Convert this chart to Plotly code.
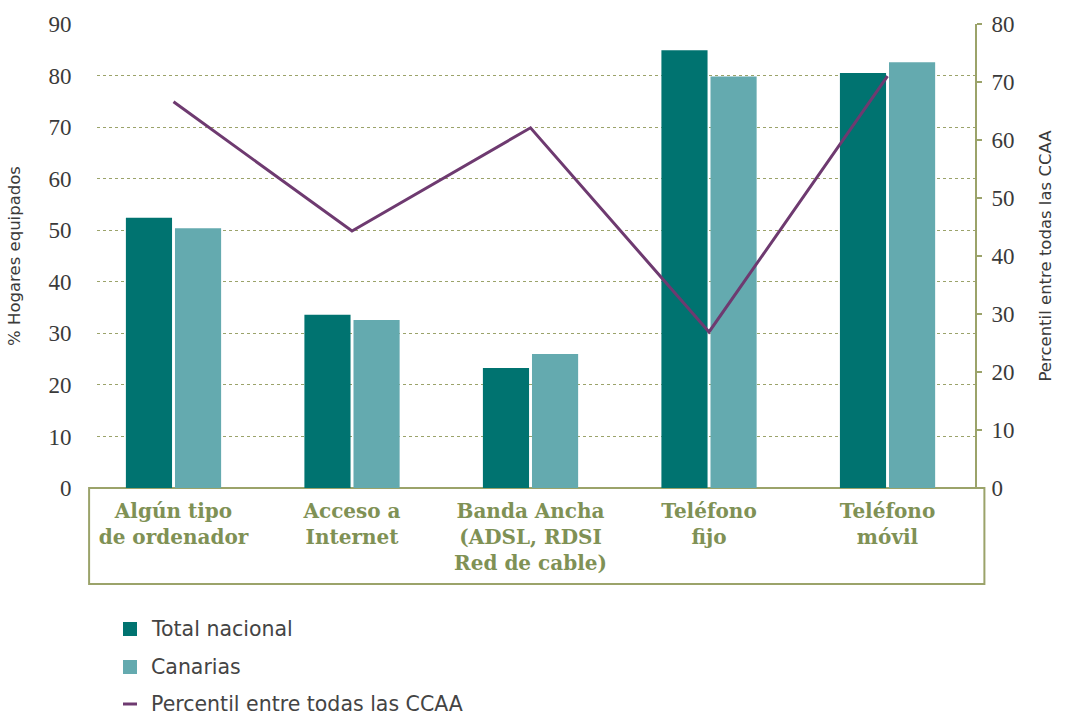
import plotly.graph_objects as go

# Equipamiento TIC de los hogares
categorias = [
    "Algún tipo<br>de ordenador",
    "Acceso a<br>Internet",
    "Banda Ancha<br>(ADSL, RDSI<br>Red de cable)",
    "Teléfono<br>fijo",
    "Teléfono<br>móvil",
]
total_nacional = [52.4, 33.6, 23.3, 84.9, 80.5]
canarias = [50.4, 32.6, 26.0, 79.8, 82.6]
percentil = [66.6, 44.3, 62.1, 26.9, 71.0]

ticks_izq = [0, 10, 20, 30, 40, 50, 60, 70, 80, 90]
ticks_der = [0, 10, 20, 30, 40, 50, 60, 70, 80]

C_TOTAL = "#007370"
C_CANARIAS = "#64aaaf"
C_PERC = "#6e3a70"
C_OLIVA = "#9ba36a"
C_CAT = "#7f9155"
C_TEXTO = "#3a3a3a"

x = list(range(len(categorias)))

fig = go.Figure()
fig.add_trace(go.Bar(
    x=x, y=total_nacional, name="Total nacional",
    marker=dict(color=C_TOTAL, line=dict(width=0)),
))
fig.add_trace(go.Bar(
    x=x, y=canarias, name="Canarias",
    marker=dict(color=C_CANARIAS, line=dict(width=0)),
))
fig.add_trace(go.Scatter(
    x=x, y=percentil, name="Percentil entre todas las CCAA",
    mode="lines", line=dict(color=C_PERC, width=3),
    yaxis="y2",
))

fig.update_layout(
    width=1071, height=716,
    margin=dict(l=97, r=96, t=24, b=228),
    paper_bgcolor="white", plot_bgcolor="white",
    barmode="group", bargap=0.45, bargroupgap=0.06,
    showlegend=False,
    font=dict(family="Liberation Serif", color=C_TEXTO),
    xaxis=dict(
        range=[-0.4286, 4.49],
        tickmode="array", tickvals=x,
        ticktext=[f"<b>{c}</b>" for c in categorias],
        tickfont=dict(family="DejaVu Serif", size=20, color=C_CAT),
        ticks="outside", ticklen=5, tickcolor="rgba(0,0,0,0)",
        showgrid=False, showline=False, zeroline=False,
    ),
    yaxis=dict(
        range=[0, 90], tickvals=ticks_izq,
        tickfont=dict(family="Liberation Serif", size=23, color=C_TEXTO),
        showgrid=True, gridcolor=C_OLIVA, griddash="dot", gridwidth=1.3,
        zeroline=False, showline=False,
        ticks="outside", ticklen=20, tickcolor="rgba(0,0,0,0)",
        title=dict(text="% Hogares equipados",
                   font=dict(family="DejaVu Sans", size=16.5, color=C_TEXTO),
                   standoff=23),
    ),
    yaxis2=dict(
        range=[0, 80], tickvals=ticks_der, overlaying="y", side="right",
        tickfont=dict(family="Liberation Serif", size=23, color=C_TEXTO),
        showgrid=False, zeroline=False,
        showline=True, linecolor=C_OLIVA, linewidth=2,
        ticks="outside", ticklen=5, tickcolor=C_OLIVA, tickwidth=2,
        ticklabelstandoff=5,
        title=dict(text="Percentil entre todas las CCAA",
                   font=dict(family="DejaVu Sans", size=16.5, color=C_TEXTO),
                   standoff=26),
    ),
)

# Recuadro de las etiquetas de categoría
fig.add_shape(
    type="rect", xref="paper", yref="paper",
    x0=-0.009, x1=1.0107, y0=0, y1=-0.207,
    line=dict(color=C_OLIVA, width=2), fillcolor="rgba(0,0,0,0)",
    layer="below",
)

# Leyenda (posiciones en píxeles respecto al área de trazado)
leyenda = [
    ("Total nacional", C_TOTAL, "sq", 629),
    ("Canarias", C_CANARIAS, "sq", 667),
    ("Percentil entre todas las CCAA", C_PERC, "line", 704),
]
for texto, color, tipo, ypix in leyenda:
    yp = 1 - (ypix - 24) / 464
    if tipo == "sq":
        fig.add_shape(type="rect", xref="paper", yref="paper",
                      xsizemode="pixel", ysizemode="pixel",
                      xanchor=0, yanchor=yp,
                      x0=123 - 97, x1=137 - 97, y0=-7, y1=7,
                      line=dict(width=0), fillcolor=color)
    else:
        fig.add_shape(type="line", xref="paper", yref="paper",
                      xsizemode="pixel", ysizemode="pixel",
                      xanchor=0, yanchor=yp,
                      x0=123 - 97, x1=137 - 97, y0=0, y1=0,
                      line=dict(width=3, color=color))
    fig.add_annotation(
        text=texto, xref="paper", yref="paper",
        x=(149 - 97) / 878, y=yp, xanchor="left", yanchor="middle",
        showarrow=False,
        font=dict(family="DejaVu Sans", size=20.5, color="#444444"),
    )

fig.write_html("out.html")
